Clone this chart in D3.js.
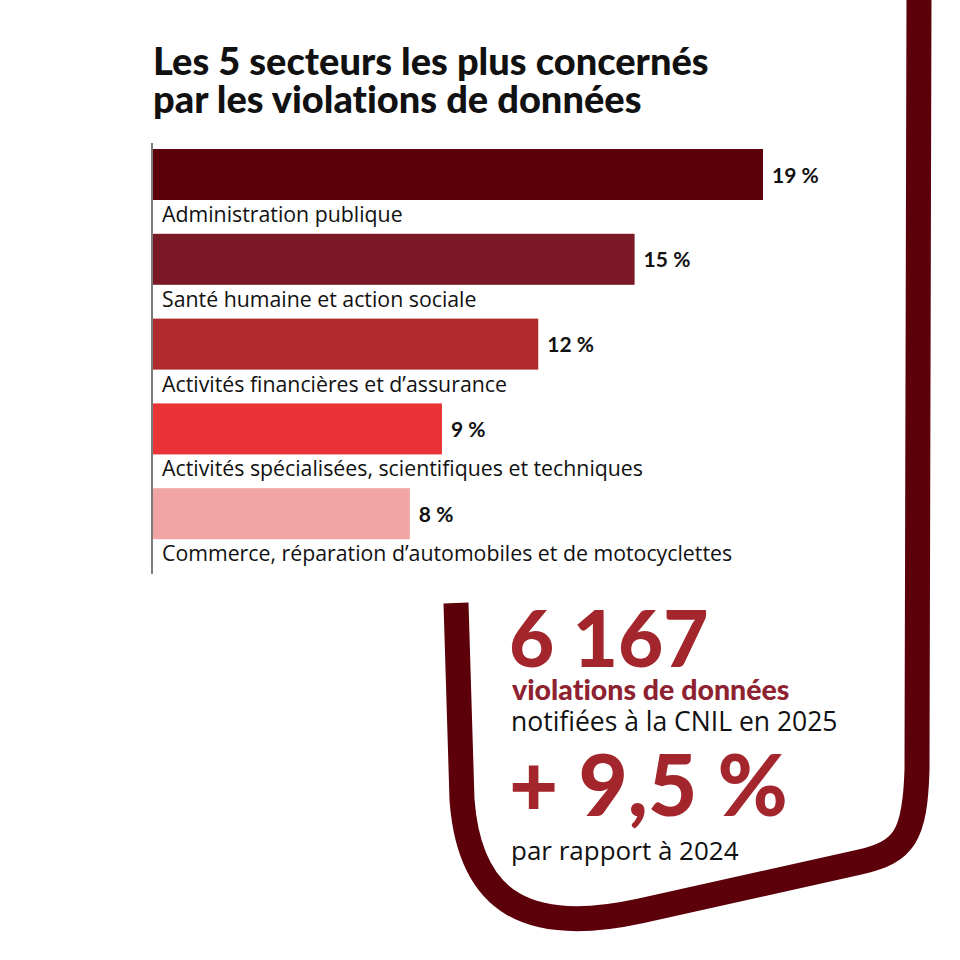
<!DOCTYPE html>
<html>
<head>
<meta charset="utf-8">
<script src="https://cdn.jsdelivr.net/npm/d3@7"></script>
<style>
  body { margin: 0; background: #fff; }
  svg { display: block; }
  text { font-variant-ligatures: none; font-feature-settings: "liga" 0, "clig" 0; }
</style>
</head>
<body>
<div id="chart"></div>
<script>
// data
var secteurs = [
  "Administration publique",
  "Santé humaine et action sociale",
  "Activités financières et d\u2019assurance",
  "Activités spécialisées, scientifiques et techniques",
  "Commerce, réparation d\u2019automobiles et de motocyclettes"
];
var parts = [19, 15, 12, 9, 8];
var couleurs = ["#5c0009", "#7a1826", "#b0292d", "#e93336", "#f0a4a3"];

var totalViolations = "6 167";
var evolution = "+ 9,5 %";

var W = 960, H = 960;
var svg = d3.select("#chart").append("svg")
    .attr("width", W)
    .attr("height", H);

// titre
var titre = svg.append("text")
    .attr("x", 153)
    .attr("y", 75)
    .attr("font-family", "Lato")
    .attr("font-weight", "900")
    .attr("font-size", "38px")
    .attr("fill", "#111");
titre.append("tspan").attr("x", 153).text("Les 5 secteurs les plus concernés");
titre.append("tspan").attr("x", 153).attr("dy", 38).text("par les violations de données");

// barres
var x = d3.scaleLinear()
    .domain([0, 19])
    .range([153, 763]);

var y = d3.scaleBand()
    .domain(secteurs)
    .range([149, 573])
    .paddingInner(0);

var barH = 51;

svg.append("line")
    .attr("x1", 152).attr("x2", 152)
    .attr("y1", 143).attr("y2", 574)
    .attr("stroke", "#222")
    .attr("stroke-width", 1.2);

var g = svg.selectAll("g.secteur")
    .data(secteurs).enter()
    .append("g")
    .attr("class", "secteur");

g.append("rect")
    .attr("x", x(0))
    .attr("y", function(d) { return y(d); })
    .attr("width", function(d, i) { return x(parts[i]) - x(0); })
    .attr("height", barH)
    .attr("fill", function(d, i) { return couleurs[i]; });

g.append("text")
    .attr("x", function(d, i) { return x(parts[i]) + 9; })
    .attr("y", function(d) { return y(d) + barH / 2 + 8; })
    .attr("font-family", "Lato")
    .attr("font-weight", "bold")
    .attr("font-size", "21px")
    .attr("fill", "#111")
    .text(function(d, i) { return parts[i] + "\u202f%"; });

g.append("text")
    .attr("x", 162)
    .attr("y", function(d) { return y(d) + barH + 22; })
    .attr("font-family", "Open Sans")
    .attr("font-size", "21.3px")
    .attr("fill", "#111")
    .text(function(d) { return d; });

// cadre
var cadre = d3.path();
cadre.moveTo(919, -5);
cadre.lineTo(917, 770);
cadre.bezierCurveTo(915, 835, 905, 852, 860, 862);
cadre.lineTo(640, 911);
cadre.bezierCurveTo(530, 935, 470, 905, 462, 800);
cadre.lineTo(456, 603);

svg.append("path")
    .attr("d", cadre.toString())
    .attr("fill", "none")
    .attr("stroke", "#5c0009")
    .attr("stroke-width", 25);

// chiffres cles
svg.append("text")
    .attr("x", 509)
    .attr("y", 667)
    .attr("font-family", "Lato")
    .attr("font-weight", "900")
    .attr("font-size", "78px")
    .attr("fill", "#a3262c")
    .text(totalViolations);

svg.append("text")
    .attr("x", 512)
    .attr("y", 700)
    .attr("font-family", "Lato")
    .attr("font-weight", "900")
    .attr("font-size", "28.5px")
    .attr("fill", "#8e2230")
    .text("violations de données");

svg.append("text")
    .attr("x", 511)
    .attr("y", 731)
    .attr("font-family", "Open Sans")
    .attr("font-size", "26.5px")
    .attr("fill", "#111")
    .text("notifiées à la CNIL en 2025");

svg.append("text")
    .attr("x", 509)
    .attr("y", 816)
    .attr("font-family", "Lato")
    .attr("font-weight", "900")
    .attr("font-size", "85px")
    .attr("fill", "#a3262c")
    .text(evolution);

svg.append("text")
    .attr("x", 511)
    .attr("y", 860)
    .attr("font-family", "Open Sans")
    .attr("font-size", "26px")
    .attr("fill", "#111")
    .text("par rapport à 2024");
</script>
</body>
</html>
